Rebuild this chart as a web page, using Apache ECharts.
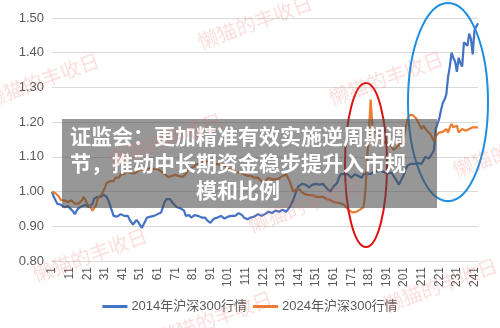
<!DOCTYPE html>
<html>
<head>
<meta charset="utf-8">
<script src="https://cdn.jsdelivr.net/npm/echarts@6/dist/echarts.min.js"></script>
<style>
  html, body { margin: 0; padding: 0; background: #fff; }
  #main { width: 500px; height: 328px; }
</style>
</head>
<body>
<div id="main"></div>
<script>
// 2014 CSI 300, normalised to day 1
var hs2014 = [
  1.000, 0.985, 0.975, 0.965, 0.968, 0.962, 0.960, 0.955, 0.950, 0.958,
  0.955, 0.948, 0.942, 0.935, 0.945, 0.952, 0.955, 0.958, 0.955, 0.962,
  0.960, 0.955, 0.950, 0.965, 0.980, 0.975, 0.985, 0.990, 0.985, 0.992,
  0.995, 0.985, 0.975, 0.960, 0.945, 0.930, 0.935, 0.928, 0.932, 0.935,
  0.938, 0.930, 0.925, 0.930, 0.920, 0.912, 0.905, 0.910, 0.918, 0.912,
  0.915, 0.895, 0.905, 0.915, 0.925, 0.920, 0.928, 0.932, 0.930, 0.925,
  0.935, 0.938, 0.940, 0.955, 0.970, 0.978, 0.980, 0.978, 0.975, 0.965,
  0.960, 0.955, 0.958, 0.952, 0.955, 0.945, 0.930, 0.928, 0.932, 0.925,
  0.928, 0.932, 0.935, 0.930, 0.930, 0.925, 0.928, 0.925, 0.918, 0.915,
  0.910, 0.915, 0.922, 0.920, 0.925, 0.930, 0.930, 0.925, 0.922, 0.920,
  0.928, 0.925, 0.930, 0.928, 0.930, 0.935, 0.938, 0.940, 0.932, 0.925,
  0.922, 0.920, 0.925, 0.925, 0.930, 0.928, 0.932, 0.935, 0.932, 0.930,
  0.932, 0.935, 0.938, 0.942, 0.940, 0.938, 0.942, 0.945, 0.948, 0.942,
  0.945, 0.948, 0.945, 0.942, 0.940, 0.955, 0.965, 0.975, 0.990, 1.005,
  1.015, 1.020, 1.022, 1.025, 1.020, 1.018, 1.012, 1.015, 1.020, 1.025,
  1.022, 1.025, 1.020, 1.018, 1.022, 1.020, 1.010, 1.005, 1.000, 1.005,
  1.015, 1.020, 1.025, 1.040, 1.050, 1.055, 1.050, 1.052, 1.050, 1.045,
  1.040, 1.045, 1.050, 1.050, 1.045, 1.042, 1.040, 1.050, 1.055, 1.052,
  1.048, 1.050, 1.055, 1.058, 1.060, 1.058, 1.062, 1.060, 1.058, 1.055,
  1.050, 1.052, 1.055, 1.055, 1.045, 1.040, 1.030, 1.020, 1.030, 1.040,
  1.050, 1.065, 1.075, 1.078, 1.080, 1.082, 1.080, 1.078, 1.082, 1.080,
  1.080, 1.090, 1.100, 1.105, 1.095, 1.100, 1.110, 1.120, 1.180, 1.195,
  1.210, 1.235, 1.255, 1.265, 1.280, 1.330, 1.360, 1.400, 1.385, 1.375,
  1.345, 1.385, 1.370, 1.360, 1.430, 1.425, 1.420, 1.455, 1.440, 1.395,
  1.465, 1.475, 1.485
];

// 2024 CSI 300, normalised to day 1
var hs2024 = [
  1.000, 0.998, 0.995, 0.995, 0.985, 0.975, 0.972, 0.975, 0.970, 0.970,
  0.972, 0.975, 0.970, 0.965, 0.960, 0.965, 0.960, 0.975, 0.985, 0.975,
  0.965, 0.960, 0.955, 0.945, 0.950, 0.960, 0.980, 0.985, 0.990, 0.995,
  1.010, 1.025, 1.020, 1.030, 1.035, 1.030, 1.040, 1.045, 1.040, 1.050,
  1.055, 1.050, 1.058, 1.060, 1.055, 1.058, 1.052, 1.050, 1.055, 1.060,
  1.065, 1.060, 1.058, 1.060, 1.065, 1.062, 1.068, 1.070, 1.065, 1.068,
  1.065, 1.060, 1.058, 1.055, 1.050, 1.045, 1.042, 1.040, 1.045, 1.050,
  1.048, 1.050, 1.045, 1.040, 1.042, 1.040, 1.050, 1.060, 1.065, 1.068,
  1.070, 1.072, 1.078, 1.080, 1.082, 1.085, 1.090, 1.088, 1.085, 1.092,
  1.095, 1.092, 1.088, 1.080, 1.075, 1.078, 1.082, 1.080, 1.075, 1.070,
  1.068, 1.065, 1.062, 1.060, 1.058, 1.055, 1.052, 1.055, 1.050, 1.050,
  1.048, 1.045, 1.048, 1.045, 1.042, 1.040, 1.038, 1.040, 1.035, 1.030,
  1.025, 1.030, 1.035, 1.040, 1.038, 1.035, 1.032, 1.035, 1.040, 1.038,
  1.042, 1.045, 1.048, 1.050, 1.040, 1.030, 1.015, 1.000, 1.005, 1.008,
  1.010, 1.005, 0.998, 0.995, 0.992, 0.990, 0.990, 0.988, 0.990, 0.986,
  0.985, 0.988, 0.985, 0.982, 0.985, 0.980, 0.978, 0.975, 0.976, 0.972,
  0.970, 0.970, 0.968, 0.970, 0.966, 0.965, 0.962, 0.955, 0.950, 0.945,
  0.942, 0.940, 0.938, 0.942, 0.945, 0.948, 0.950, 0.955, 1.000, 1.090,
  1.170, 1.265, 1.190, 1.175, 1.180, 1.165, 1.155, 1.150, 1.145, 1.140,
  1.138, 1.135, 1.140, 1.130, 1.120, 1.125, 1.128, 1.125, 1.140, 1.150,
  1.160, 1.185, 1.210, 1.220, 1.225, 1.220, 1.215, 1.210, 1.200, 1.195,
  1.180, 1.190, 1.185, 1.175, 1.170, 1.165, 1.155, 1.145, 1.160, 1.165,
  1.170, 1.175, 1.172, 1.175, 1.180, 1.170, 1.185, 1.195, 1.185, 1.180,
  1.190, 1.170, 1.175, 1.180, 1.180, 1.175, 1.178, 1.180, 1.185, 1.185,
  1.182, 1.185, 1.185
];

var days = hs2014.map(function (v, i) { return String(i + 1); });

var headline = [
  '证监会：更加精准有效实施逆周期调',
  '节，推动中长期资金稳步提升入市规',
  '模和比例'
];

var markSpots = [[255, 22], [42, 80], [386, 78], [-62, 172], [165, 140],
                 [90, 255], [305, 205], [440, 285], [510, 150], [215, 318]];

var myChart = echarts.init(document.getElementById('main'), null, { renderer: 'canvas' });

var gfx = [];
// 2 hand drawn circles
gfx.push({
  type: 'ellipse', z: 100,
  shape: { cx: 366, cy: 165, rx: 21, ry: 82 },
  style: { fill: 'none', stroke: '#e01010', lineWidth: 2 }
});
gfx.push({
  type: 'ellipse', z: 100,
  shape: { cx: 448, cy: 102, rx: 40, ry: 99 },
  style: { fill: 'none', stroke: '#1e8fe0', lineWidth: 2 }
});
// the grey headline box
gfx.push({
  type: 'rect', z: 110,
  shape: { x: 62, y: 119, width: 375, height: 89 },
  style: { fill: 'rgba(75,75,75,0.58)' }
});
headline.forEach(function (line, k) {
  gfx.push({
    type: 'text', z: 120,
    x: 238, y: 136 + k * 27,
    style: {
      text: line, fill: '#fff', align: 'center', verticalAlign: 'middle',
      font: 'bold 21px "Noto Sans CJK SC", sans-serif'
    }
  });
});
// watermarks
markSpots.forEach(function (p) {
  gfx.push({
    type: 'text', z: 130,
    x: p[0], y: p[1], rotation: 0.35,
    style: {
      text: '懒猫的丰收日', fill: 'rgba(235,105,105,0.22)',
      align: 'center', verticalAlign: 'middle',
      font: '20px "Noto Sans CJK SC", sans-serif'
    }
  });
});

var option = {
  animation: false,
  textStyle: { fontFamily: '"Liberation Sans", "Noto Sans CJK SC", sans-serif' },
  grid: { left: 52, right: 22, top: 18, bottom: 67 },
  legend: {
    bottom: 10, left: 'center',
    itemWidth: 25, itemHeight: 3, itemGap: 6,
    icon: 'rect',
    textStyle: { fontSize: 13, color: '#595959', padding: [0, 0, 0, -1] },
    data: ['2014年沪深300行情', '2024年沪深300行情']
  },
  xAxis: {
    type: 'category',
    boundaryGap: false,
    data: days,
    axisLine: { lineStyle: { color: '#d9d9d9' } },
    axisTick: { show: false },
    axisLabel: { interval: 9, rotate: 90, fontSize: 12, color: '#595959', margin: 6 }
  },
  yAxis: {
    type: 'value',
    min: 0.8, max: 1.5, interval: 0.1,
    axisLine: { show: false },
    axisTick: { show: false },
    axisLabel: {
      fontSize: 13, color: '#595959', margin: 8,
      formatter: function (v) { return v.toFixed(2); }
    },
    splitLine: { lineStyle: { color: '#d9d9d9' } }
  },
  series: [
    {
      name: '2014年沪深300行情', type: 'line', data: hs2014,
      symbol: 'none', itemStyle: { color: '#4472c4' },
      lineStyle: { color: '#4472c4', width: 2.2 }
    },
    {
      name: '2024年沪深300行情', type: 'line', data: hs2024,
      symbol: 'none', itemStyle: { color: '#ed7d31' },
      lineStyle: { color: '#ed7d31', width: 2.2 }
    }
  ],
  graphic: gfx
};

myChart.setOption(option);
window.addEventListener('resize', myChart.resize);
</script>
</body>
</html>
